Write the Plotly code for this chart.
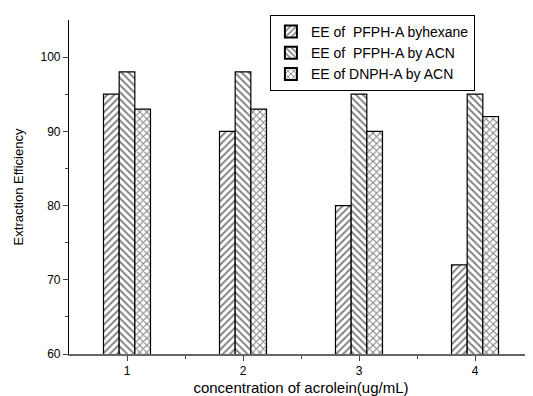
import plotly.graph_objects as go

categories = [1, 2, 3, 4]
series_names = ["EE of  PFPH-A byhexane", "EE of  PFPH-A by ACN", "EE of DNPH-A by ACN"]
pfph_hexane = [95, 90, 80, 72]
pfph_acn = [98, 98, 95, 95]
dnph_acn = [93, 93, 90, 92]
patterns = ["/", "\\", "x"]

fig = go.Figure()
for name, vals, pat in zip(series_names, [pfph_hexane, pfph_acn, dnph_acn], patterns):
    fig.add_trace(go.Bar(
        x=categories, y=vals, name=name,
        marker=dict(color="white", line=dict(color="black", width=1.2),
                    pattern=dict(shape=pat, fgcolor="black", bgcolor="white", size=5, solidity=0.38)),
    ))

# page body has an 8px default margin, so the figure is offset by 8px
fig.update_layout(
    width=525, height=388,
    margin=dict(l=61, r=0, t=12, b=42, autoexpand=False),
    barmode="group", bargap=0.595, bargroupgap=0,
    plot_bgcolor="white", paper_bgcolor="white",
    font=dict(family="Arial, Liberation Sans", color="black"),
    showlegend=True,
    legend=dict(x=0.433, y=1.015, xanchor="left", yanchor="top",
                bgcolor="white", bordercolor="black", borderwidth=1,
                font=dict(size=14), itemwidth=30, tracegroupgap=0,
                itemsizing="constant"),
    xaxis=dict(range=[0.5, 4.5], tickvals=categories, ticktext=[str(c) for c in categories],
               showline=True, linecolor="#666", linewidth=2, ticks="outside", ticklen=5,
               tickcolor="#444", showgrid=False, zeroline=False, automargin=False,
               minor=dict(tickvals=[1.5, 2.5, 3.5], ticks="outside", ticklen=3, tickcolor="#444"),
               tickfont=dict(size=12),
               title=dict(text="concentration of acrolein(ug/mL)", font=dict(size=15), standoff=7)),
    yaxis=dict(range=[60, 105], tickvals=[60, 70, 80, 90, 100],
               showline=True, linecolor="black", linewidth=1.2, ticks="outside", ticklen=5,
               showgrid=False, zeroline=False, automargin=False,
               minor=dict(tickvals=[65, 75, 85, 95], ticks="outside", ticklen=3),
               tickfont=dict(size=12),
               title=dict(text="Extraction Efficiency", font=dict(size=13), standoff=13)),
)

fig.write_html("out.html")
